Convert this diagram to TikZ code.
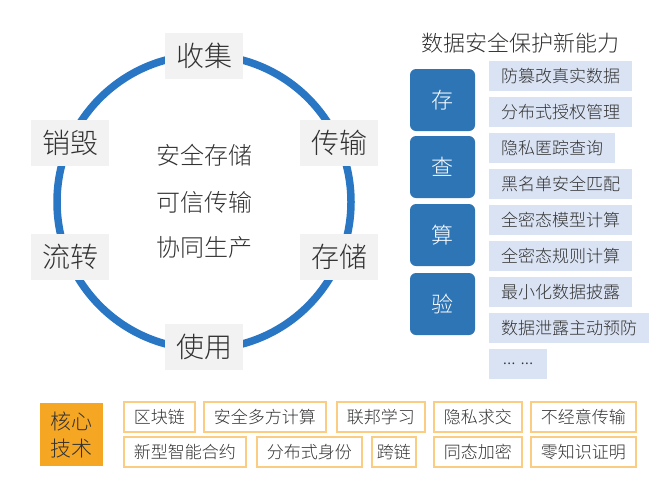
\documentclass[tikz,border=0pt]{standalone}
\usepackage{fontspec}
\setmainfont{Noto Sans CJK SC}[UprightFont=* Light]
\usepackage{xcolor}
\usepackage{tikz}
\definecolor{ringblue}{RGB}{40,118,196}
\definecolor{verbblue}{RGB}{46,117,182}
\definecolor{stageback}{RGB}{242,242,242}
\definecolor{capblue}{RGB}{218,227,243}
\definecolor{coreorange}{RGB}{245,166,35}
\definecolor{techline}{RGB}{250,205,130}
\definecolor{txt}{RGB}{50,50,50}

\begin{document}
\begin{tikzpicture}[x=1pt,y=-1pt,
            stage/.style={shape=rectangle, fill=stageback, text=txt, minimum width=78pt, minimum height=46pt, inner sep=0pt, font=\fontsize{28}{30}\selectfont},
            motto/.style={text=txt, inner sep=0pt, font=\fontsize{24}{26}\selectfont},
            verb/.style={shape=rectangle, rounded corners=6pt, fill=verbblue, text=white, minimum width=65pt, minimum height=62pt, font=\fontsize{22}{24}\selectfont},
            capbox/.style={shape=rectangle, fill=capblue, text=txt, anchor=west, inner xsep=12pt, minimum height=30pt, font=\fontsize{17}{19}\selectfont},
            techbox/.style={shape=rectangle, draw=techline, line width=1.5pt, fill=white, text=txt, anchor=west, inner xsep=10pt, minimum height=30pt, font=\fontsize{17}{19}\selectfont}]
        \useasboundingbox (0,0) rectangle (660,480);

        \draw[ringblue, line width=7.5pt] (204,202) circle[radius=147pt];

        \node[stage] (collect) at (204,56) {收集};
        \node[stage] (transmit) at (339,143) {传输};
        \node[stage] (store) at (339,257) {存储};
        \node[stage] (use) at (204,347) {使用};
        \node[stage] (circulate) at (70,257) {流转};
        \node[stage] (destroy) at (70,143) {销毁};

        \node[motto] (safestore) at (204,155) {安全存储};
        \node[motto] (trustsend) at (204,202) {可信传输};
        \node[motto] (coproduce) at (204,247) {协同生产};

        \node[motto, font=\fontsize{22}{24}\selectfont] (title) at (520,43) {数据安全保护新能力};

        \node[verb] (keep) at (442.5,100) {存};
        \node[verb] (query) at (442.5,167) {查};
        \node[verb] (compute) at (442.5,235) {算};
        \node[verb] (verify) at (442.5,304) {验};

        \node[capbox] (cap1) at (489,76) {防篡改真实数据};
        \node[capbox] (cap2) at (489,112) {分布式授权管理};
        \node[capbox] (cap3) at (489,148) {隐私匿踪查询};
        \node[capbox] (cap4) at (489,184) {黑名单安全匹配};
        \node[capbox] (cap5) at (489,220) {全密态模型计算};
        \node[capbox] (cap6) at (489,256) {全密态规则计算};
        \node[capbox] (cap7) at (489,292) {最小化数据披露};
        \node[capbox] (cap8) at (489,328) {数据泄露主动预防};
        \node[capbox, minimum width=58pt, inner xsep=6pt] (cap9) at (489,364) {... ...};

        \node[shape=rectangle, fill=coreorange, text=txt, minimum size=63pt, align=center, font=\fontsize{21}{27}\selectfont] (core) at (71.5,434.5) {核心\\技术};

        \node[techbox] (chain) at (123,417) {区块链};
        \node[techbox] (mpc) at (203,417) {安全多方计算};
        \node[techbox] (fedlearn) at (336,417) {联邦学习};
        \node[techbox] (psi) at (433,417) {隐私求交};
        \node[techbox] (ot) at (530,417) {不经意传输};
        \node[techbox] (contract) at (123,452) {新型智能合约};
        \node[techbox] (did) at (256,452) {分布式身份};
        \node[techbox, inner xsep=5pt] (crosschain) at (371,452) {跨链};
        \node[techbox] (he) at (433,452) {同态加密};
        \node[techbox] (zkp) at (530,452) {零知识证明};
    \end{tikzpicture}
\end{document}
